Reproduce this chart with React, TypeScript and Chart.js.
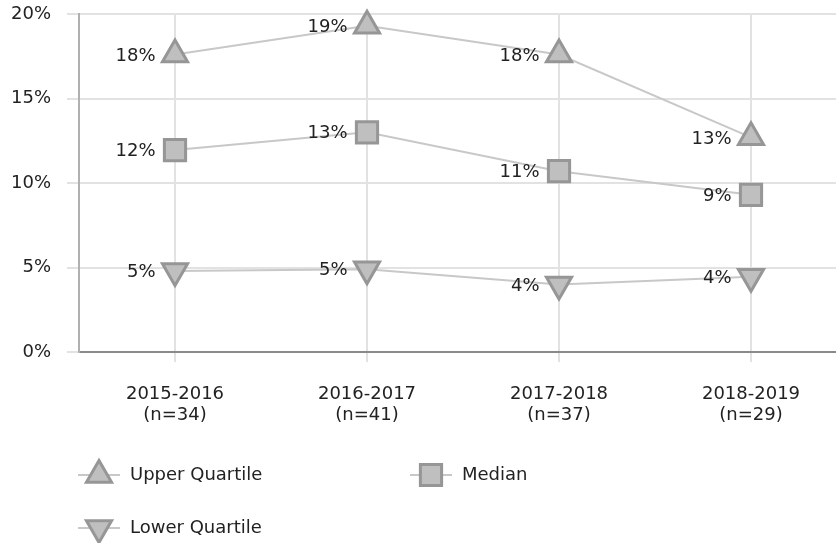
import React, { useEffect, useRef } from 'react';
import { Chart, registerables } from 'chart.js';

Chart.register(...registerables);

const categories: string[][] = [
  ['2015-2016', '(n=34)'],
  ['2016-2017', '(n=41)'],
  ['2017-2018', '(n=37)'],
  ['2018-2019', '(n=29)'],
];
const upperQuartile = [17.6, 19.3, 17.6, 12.7];
const median = [11.95, 13.0, 10.7, 9.3];
const lowerQuartile = [4.8, 4.9, 4.0, 4.45];
const seriesNames = ['Upper Quartile', 'Median', 'Lower Quartile'];
const yMin = 0;
const yMax = 20;
const yStep = 5;

const FONT = '"DejaVu Sans", Verdana, sans-serif';
const TEXT = '#222222';
const MARK_FILL = '#bfbfbf';
const MARK_BORDER = '#969696';
const LINE = '#c8c8c8';

function drawMarker(ctx: CanvasRenderingContext2D, style: string, rot: number, x: number, y: number, r: number) {
  ctx.save();
  ctx.fillStyle = MARK_FILL;
  ctx.strokeStyle = MARK_BORDER;
  ctx.lineWidth = 3;
  ctx.beginPath();
  if (style === 'rect') {
    const s = Math.SQRT1_2 * r;
    ctx.rect(x - s, y - s, 2 * s, 2 * s);
  } else {
    let rad = (rot * Math.PI) / 180;
    for (let i = 0; i < 3; i++) {
      const px = x + Math.sin(rad) * r;
      const py = y - Math.cos(rad) * r;
      if (i === 0) ctx.moveTo(px, py);
      else ctx.lineTo(px, py);
      rad += (2 * Math.PI) / 3;
    }
    ctx.closePath();
  }
  ctx.fill();
  ctx.stroke();
  ctx.restore();
}

const dataLabelPlugin = {
  id: 'dataLabels',
  afterDatasetsDraw(chart: any) {
    const ctx = chart.ctx as CanvasRenderingContext2D;
    ctx.save();
    ctx.font = `18px ${FONT}`;
    ctx.fillStyle = TEXT;
    ctx.textAlign = 'right';
    ctx.textBaseline = 'middle';
    chart.data.datasets.forEach((ds: any, i: number) => {
      const meta = chart.getDatasetMeta(i);
      meta.data.forEach((pt: any, j: number) => {
        const v = ds.data[j] as number;
        ctx.fillText(`${Math.round(v)}%`, pt.x - 19.5, pt.y + 1.5);
      });
    });
    ctx.restore();
  },
};

const legendPlugin = {
  id: 'customLegend',
  afterDraw(chart: any) {
    const ctx = chart.ctx as CanvasRenderingContext2D;
    const items = [
      { x: 99, y: 475 },
      { x: 431, y: 475 },
      { x: 99, y: 528 },
    ];
    chart.data.datasets.forEach((ds: any, i: number) => {
      const it = items[i];
      ctx.save();
      ctx.strokeStyle = LINE;
      ctx.lineWidth = 2;
      ctx.beginPath();
      ctx.moveTo(it.x - 21, it.y);
      ctx.lineTo(it.x + 21, it.y);
      ctx.stroke();
      ctx.restore();
      drawMarker(ctx, ds.pointStyle, ds.pointRotation || 0, it.x, it.y, ds.pointRadius);
      ctx.save();
      ctx.font = `18px ${FONT}`;
      ctx.fillStyle = TEXT;
      ctx.textAlign = 'left';
      ctx.textBaseline = 'middle';
      ctx.fillText(ds.label, it.x + 31, it.y);
      ctx.restore();
    });
  },
};

export default function App() {
  const ref = useRef<HTMLCanvasElement | null>(null);

  useEffect(() => {
    if (!ref.current) return;
    const common = {
      borderColor: LINE,
      borderWidth: 2,
      backgroundColor: MARK_FILL,
      pointBackgroundColor: MARK_FILL,
      pointBorderColor: MARK_BORDER,
      pointBorderWidth: 3,
      tension: 0,
      fill: false,
      clip: false,
    };
    const chart = new Chart(ref.current, {
      type: 'line',
      data: {
        labels: categories,
        datasets: [
          { ...common, label: seriesNames[0], data: upperQuartile, pointStyle: 'triangle', pointRadius: 14.5, pointRotation: 0 },
          { ...common, label: seriesNames[1], data: median, pointStyle: 'rect', pointRadius: 15, pointRotation: 0 },
          { ...common, label: seriesNames[2], data: lowerQuartile, pointStyle: 'triangle', pointRadius: 14.5, pointRotation: 180 },
        ] as any,
      },
      options: {
        responsive: false,
        animation: false,
        devicePixelRatio: 1,
        events: [],
        layout: { autoPadding: false, padding: { left: 0, right: 13, top: 14, bottom: 100 } },
        plugins: {
          legend: { display: false },
          tooltip: { enabled: false },
        },
        scales: {
          x: {
            type: 'category',
            offset: true,
            grid: {
              color: '#e2e2e2',
              lineWidth: 2,
              tickLength: 10,
              offset: false,
            },
            border: { color: '#8a8a8a', width: 2 },
            ticks: {
              color: TEXT,
              font: { family: FONT, size: 18, lineHeight: 1.15 },
              padding: 22,
              maxRotation: 0,
              autoSkip: false,
            },
            afterFit: (scale: any) => {
              scale.height = 91;
              scale.paddingLeft = 0;
              scale.paddingRight = 0;
            },
          },
          y: {
            min: yMin,
            max: yMax,
            grid: {
              color: '#e2e2e2',
              lineWidth: 2,
              tickLength: 12,
            },
            border: { color: '#b0b0b0', width: 2 },
            ticks: {
              stepSize: yStep,
              color: TEXT,
              font: { family: FONT, size: 18 },
              padding: 16,
              callback: (v: any) => `${v}%`,
            },
            afterFit: (scale: any) => {
              scale.width = 79;
              scale.paddingTop = 0;
              scale.paddingBottom = 0;
            },
          },
        },
      },
      plugins: [dataLabelPlugin, legendPlugin],
    });
    return () => chart.destroy();
  }, []);

  return (
    <div style={{ position: 'fixed', left: 0, top: 0, width: 836, height: 543, overflow: 'hidden', background: '#fff' }}>
      <canvas ref={ref} width={860} height={543} style={{ display: 'block' }} />
    </div>
  );
}
